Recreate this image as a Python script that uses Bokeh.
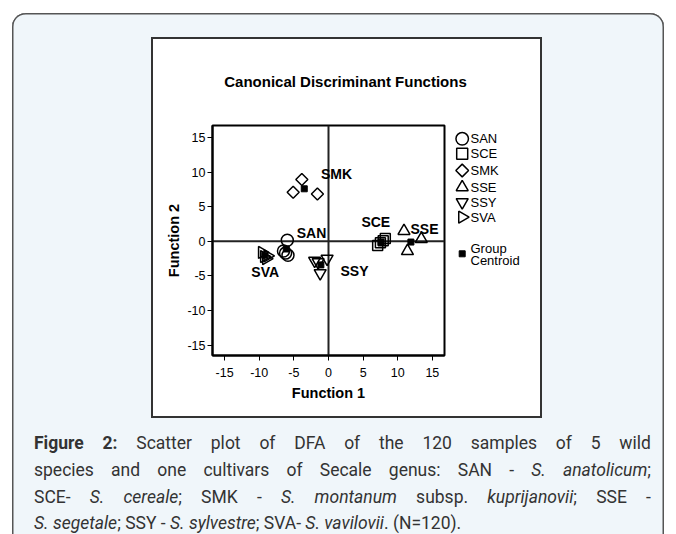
import numpy as np
from bokeh.plotting import figure
from bokeh.models import Span, FixedTicker, Div, Spacer, Range1d
from bokeh.layouts import column, row
from bokeh.core.properties import value
from bokeh.embed import file_html
from bokeh.resources import INLINE

# ---------------- data ----------------
groups = ["SAN", "SCE", "SMK", "SSE", "SSY", "SVA"]
san_x = [-5.95, -6.5, -5.85, -6.2]
san_y = [0.15, -1.4, -2.0, -1.7]
sce_x = [7.1, 7.5, 7.9, 8.2]
sce_y = [-0.6, -0.2, 0.1, 0.4]
smk_x = [-3.85, -5.1, -1.6]
smk_y = [8.95, 7.1, 6.85]
sse_x = [10.9, 13.4, 11.4]
sse_y = [1.5, 0.35, -1.4]
ssy_x = [-2.0, -1.5, -0.2, -1.2]
ssy_y = [-2.8, -3.0, -2.5, -4.6]
sva_x = [-9.6, -9.3, -8.8, -9.0]
sva_y = [-1.6, -2.2, -2.1, -2.5]
centroid_x = [-6.1, 7.6, -3.5, 11.9, -1.1, -9.2]
centroid_y = [-1.1, -0.1, 7.6, -0.1, -3.4, -2.0]
group_label_x = [-2.45, 6.83, 1.16, 13.86, 3.75, -9.14]
group_label_y = [1.14, 2.73, 9.67, 1.72, -4.28, -4.5]
ticks = [-15, -10, -5, 0, 5, 10, 15]
tick_labels = ["-15", "-10", "-5", "0", "5", "10", "15"]
title_text = "Canonical Discriminant Functions"
x_title = "Function 1"
y_title = "Function 2"
centroid_words = ["Group", "Centroid"]
caption_lines = [
    "<b>Figure</b> <b>2:</b> Scatter plot of DFA of the 120 samples of 5 wild",
    "species and one cultivars of Secale genus: SAN - <i>S.</i> <i>anatolicum</i>;",
    "SCE- <i>S.</i> <i>cereale</i>; SMK - <i>S.</i> <i>montanum</i> subsp. <i>kuprijanovii</i>; SSE -",
    "<i>S.</i> <i>segetale</i>; SSY - <i>S.</i> <i>sylvestre</i>; SVA- <i>S.</i> <i>vavilovii</i>. (N=120).",
]

FONT = "Liberation Sans"
BG = "#f0f6fa"

# ---------------- main scatter figure ----------------
X0, X1 = -16.75, 16.75
Y0, Y1 = -16.5, 16.75
PW, PH = 294, 317
MB_TOP, MB_BOTTOM = 26, 61
p = figure(width=PW, height=PH, x_range=(X0, X1), y_range=(Y0, Y1),
           output_backend="svg", toolbar_location=None,
           min_border_left=59, min_border_right=3, min_border_top=MB_TOP, min_border_bottom=MB_BOTTOM,
           background_fill_color="white", border_fill_color="white",
           outline_line_color="black", outline_line_width=2)
p.grid.visible = False

p.add_layout(Span(location=0, dimension="height", line_color="#222222", line_width=2, level="underlay"))
p.add_layout(Span(location=0, dimension="width", line_color="#222222", line_width=2, level="underlay"))

for ax in (p.xaxis[0], p.yaxis[0]):
    ax.ticker = FixedTicker(ticks=ticks)
    ax.major_label_overrides = {t: l for t, l in zip(ticks, tick_labels)}
    ax.minor_tick_line_color = None
    ax.major_tick_in = 0
    ax.major_tick_out = 5
    ax.major_tick_line_color = "black"
    ax.major_tick_line_width = 1
    ax.axis_line_color = "black"
    ax.axis_line_width = 2
    ax.major_label_text_font = FONT
    ax.major_label_text_font_size = "12.5px"
    ax.major_label_text_color = "black"
    ax.axis_label_text_font = FONT
    ax.axis_label_text_font_style = "bold"
    ax.axis_label_text_font_size = "14.5px"
    ax.axis_label_text_color = "black"
p.xaxis.axis_label = x_title
p.yaxis.axis_label = y_title
p.xaxis.major_label_standoff = 7
p.xaxis.axis_label_standoff = 5
p.yaxis.major_label_standoff = 2
p.yaxis.axis_label_standoff = 2

style = dict(fill_color=None, line_color="black", line_width=1.5)
p.scatter(san_x, san_y, marker="circle", size=12, **style)
p.scatter(sce_x, sce_y, marker="square", size=10, **style)
p.scatter(smk_x, smk_y, marker="square", angle=np.pi / 4, size=8.5, **style)
p.scatter(sse_x, sse_y, marker="triangle", size=12, **style)
p.scatter(ssy_x, ssy_y, marker="inverted_triangle", size=12, **style)
p.scatter(sva_x, sva_y, marker="triangle", angle=-np.pi / 2, size=12, **style)
p.scatter(centroid_x, centroid_y, marker="square", size=6, fill_color="black", line_color="black")

p.text(x=group_label_x, y=group_label_y, text=groups, text_align="center",
       text_baseline="middle", text_font=value(FONT), text_font_style="bold",
       text_font_size="14px", text_color="black")

# ---------------- legend panel (its own small figure; page-pixel coordinates) ----------------
LW = 93
# frame of this figure is aligned with the scatter frame: page x 447..540, page y 125..355
lf = figure(width=LW, height=PH, x_range=Range1d(447, 447 + LW), y_range=Range1d(355, 125),
            output_backend="svg", toolbar_location=None,
            x_axis_location=None, y_axis_location=None,
            min_border_left=0, min_border_right=0, min_border_top=MB_TOP, min_border_bottom=MB_BOTTOM,
            background_fill_color="white", border_fill_color="white", outline_line_color=None)
lf.grid.visible = False
leg_mx = 461.7
leg_ty = [138.3, 153.3, 170.0, 186.7, 201.7, 216.7]
leg_markers = ["circle", "square", "square", "triangle", "inverted_triangle", "triangle"]
leg_angles = [0, 0, np.pi / 4, 0, 0, -np.pi / 2]
leg_sizes = [12.5, 11, 9, 12, 12, 12]
for mk, ang, sz, yy in zip(leg_markers, leg_angles, leg_sizes, leg_ty):
    lf.scatter([leg_mx], [yy], marker=mk, angle=ang, size=sz, **style)
lf.text(x=[470] * len(groups), y=leg_ty, text=groups, text_baseline="middle",
        text_font=value(FONT), text_font_size="13px", text_color="black")
lf.scatter([leg_mx], [253.3], marker="square", size=6, fill_color="black", line_color="black")
lf.text(x=[470, 470], y=[248.3, 260.0], text=centroid_words, text_baseline="middle",
        text_font=value(FONT), text_font_size="13px", text_color="black")

# ---------------- title (inside the white box) ----------------
title_div = Div(
    text=('<div style="position:relative;width:387px;height:60px;">'
          '<div style="position:absolute;left:-1px;top:33.7px;width:387px;height:18px;'
          f'line-height:18px;text-align:center;font-family:\'{FONT}\';font-weight:bold;'
          f'font-size:15px;color:black;white-space:nowrap;">{title_text}</div></div>'),
    width=387, height=60, margin=0)

whitebox = column(title_div, row(p, lf),
                  styles={"background-color": "white", "box-shadow": "0 0 0 2px #333333"})

# ---------------- caption ----------------
line_tops = [18, 45, 72, 98]
rows_html = []
for i, (line, top) in enumerate(zip(caption_lines, line_tops)):
    base = (f"position:absolute;left:22px;top:{top}px;width:617px;height:18px;"
            "line-height:18px;white-space:nowrap;")
    if i < len(caption_lines) - 1:
        words = "".join(f"<span>{w}</span>" for w in line.split(" "))
        rows_html.append(f'<div style="{base}display:flex;justify-content:space-between;">{words}</div>')
    else:
        rows_html.append(f'<div style="{base}">{line}</div>')
caption_div = Div(
    text=('<div style="position:relative;width:652px;height:118px;font-family:Roboto;'
          'font-size:17.5px;color:#333333;">' + "".join(rows_html) + '</div>'),
    width=652, height=118, margin=0)

outer = column(
    Spacer(width=1, height=26),
    row(Spacer(width=141, height=1), whitebox),
    caption_div,
    styles={"background-color": BG, "border-radius": "14px 14px 0 0",
            "box-shadow": "inset 1.5px 0 0 0 #555555, inset -1.5px 0 0 0 #555555, inset 0 1.5px 0 0 #555555"},
)

layout = column(Spacer(width=1, height=13), row(Spacer(width=12, height=1), outer))
open("out.html", "w").write(file_html(layout, INLINE))
